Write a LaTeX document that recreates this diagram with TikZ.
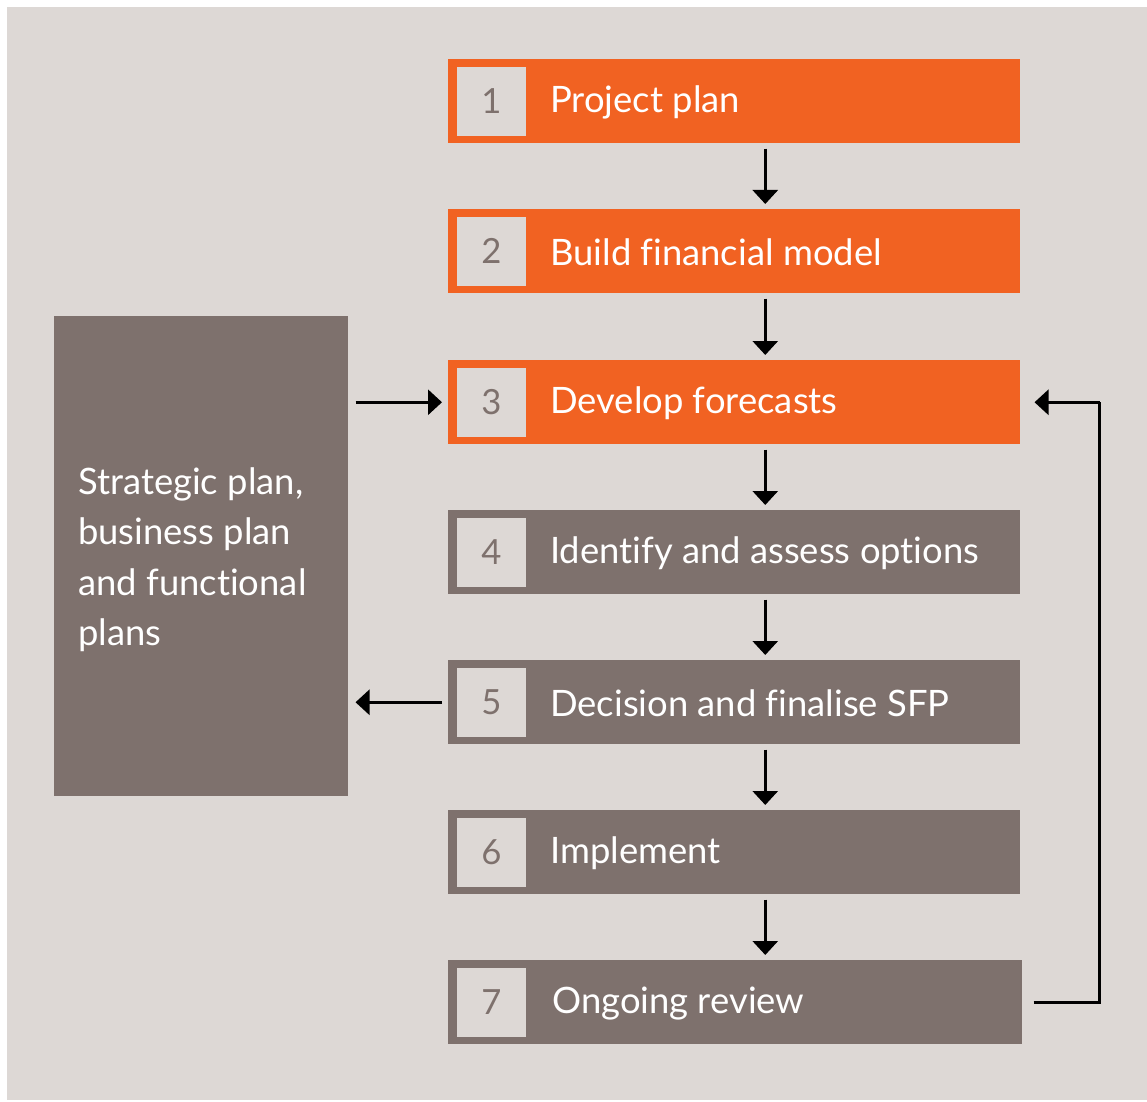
\documentclass[tikz,border=0pt]{standalone}
\usepackage{fontspec}
\setmainfont{Lato}[Ligatures=NoCommon]
\usetikzlibrary{arrows.meta,calc}
\definecolor{paper}{RGB}{221,216,213}
\definecolor{taupe}{RGB}{126,113,109}
\definecolor{flame}{RGB}{241,98,34}
\begin{document}
\begin{tikzpicture}[x=0.75pt,y=-0.75pt,
  stepbox/.style={draw=none,fill=#1,minimum width=429pt,minimum height=63pt,
    inner sep=0pt,anchor=north west},
  numbox/.style={fill=paper,draw=none,minimum size=51.75pt,inner sep=0pt,
    text=taupe,font=\fontsize{26}{30}\selectfont},
  steptext/.style={text=white,anchor=west,inner sep=0pt,font=\fontsize{27.3}{30}\selectfont},
  arr/.style={line width=2.25pt,-{Triangle[length=10.5pt,width=18.75pt]}},
  link/.style={line width=2.25pt}]
\useasboundingbox (0,0) rectangle (1147,1102);
\fill[paper] (7,7) rectangle (1147,1100);

% process steps
\node[stepbox=flame] (b1) at (448,59) {};
\node[stepbox=flame] (b2) at (448,209) {};
\node[stepbox=flame] (b3) at (448,360) {};
\node[stepbox=taupe] (b4) at (448,510) {};
\node[stepbox=taupe] (b5) at (448,660) {};
\node[stepbox=taupe] (b6) at (448,810) {};
\node[stepbox=taupe,minimum width=430.5pt] (b7) at (448,960) {};

\foreach \i/\t in {1/Project plan,2/Build financial model,3/Develop forecasts,
  4/Identify and assess options,5/Decision and finalise SFP,6/Implement}{
  \node[numbox] (n\i) at ($(b\i.west)+(43.5,0)$) {\i};
  \node[steptext] (t\i) at ($(b\i.west)+(102,1)$) {\t};
}
\node[numbox] (n7) at ($(b7.west)+(43.5,0)$) {7};
\node[steptext] (t7) at ($(b7.west)+(104,1)$) {Ongoing review};

% planning documents
\node[fill=taupe,minimum width=220.5pt,minimum height=360pt,inner sep=0pt,
  anchor=north west] (plans) at (54,316) {};
\node[text=white,anchor=north west,align=left,inner sep=0pt,
  font=\fontsize{27.3}{37.9}\selectfont] (plantext) at (78,467)
  {Strategic plan,\\business plan\\and functional\\plans};

% connectors
\foreach \a/\b in {1/2,2/3,3/4,4/5,5/6,6/7}{
  \draw[arr,shorten <=3.75pt,shorten >=3.75pt]
    ([xshift=23.25pt]b\a.south) -- ([xshift=23.25pt]b\a.south |- b\b.north);
}
\draw[arr,shorten <=5.25pt,shorten >=4.5pt] (plans.east |- b3.west) -- (b3.west);
\draw[arr,shorten <=4.5pt,shorten >=5.25pt] (b5.west) -- (plans.east |- b5.west);
\coordinate (r1) at ($(b7.east)+(77,0)$);
\coordinate (r2) at (r1 |- b3.east);
\draw[link,line cap=butt] ($(b7.east)+(11,0)$) -- (r1) -- (r2);
\draw[arr] (r2) -- ($(b3.east)+(14,0)$);
\end{tikzpicture}
\end{document}
